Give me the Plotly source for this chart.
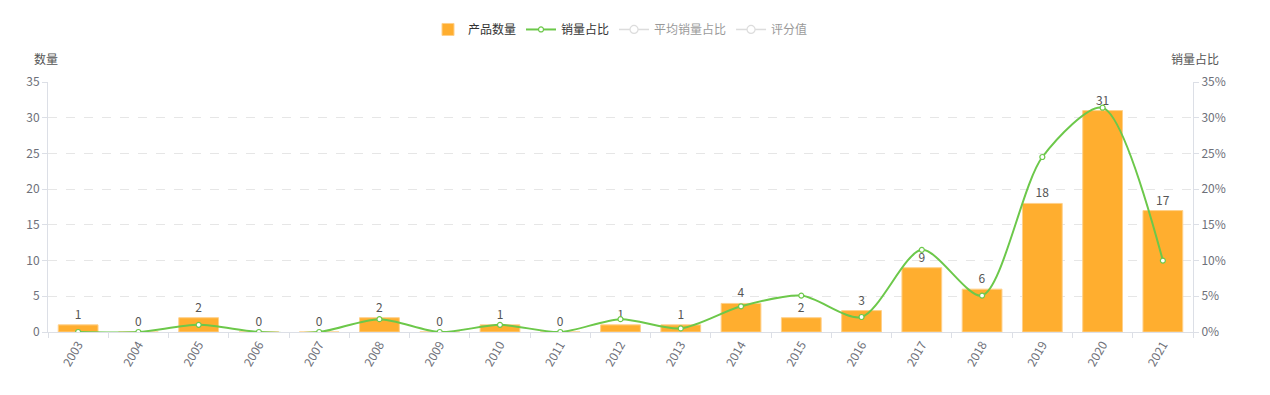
import plotly.graph_objects as go

years = [str(y) for y in range(2003, 2022)]
counts = [1, 0, 2, 0, 0, 2, 0, 1, 0, 1, 1, 4, 2, 3, 9, 6, 18, 31, 17]
share_pct = [0, 0, 1.0, 0, 0, 1.8, 0, 1.0, 0, 1.8, 0.5, 3.6, 5.1, 2.1, 11.5, 5.1, 24.5, 31.4, 10.0]

FONT = "Noto Sans CJK SC, Microsoft YaHei, sans-serif"
BAR = "#FFAE2F"
GREEN = "#6CC84A"
TXT = "#555555"
AX = "#6E7079"

fig = go.Figure()
fig.add_trace(go.Bar(
    x=years, y=counts, name="产品数量",
    marker=dict(color=BAR, line=dict(color="#FFD08A", width=1)),
    text=[str(c) for c in counts], textposition="outside",
    textfont=dict(color=TXT, size=12), cliponaxis=False,
    width=0.66,
))
fig.add_trace(go.Scatter(
    x=years, y=share_pct, name="销量占比", yaxis="y2",
    mode="lines+markers", line=dict(color=GREEN, width=2, shape="spline", smoothing=0.8),
    marker=dict(size=5, color="white", line=dict(color=GREEN, width=1.2)),
))
empty = [None] * len(years)
for nm in ["平均销量占比", "评分值"]:
    fig.add_trace(go.Scatter(x=years, y=empty, name=nm, yaxis="y2", visible="legendonly",
                             mode="lines+markers", line=dict(color="#bbbbbb", width=1.5),
                             marker=dict(size=8, color="white", line=dict(color="#bbbbbb", width=1.2))))

fig.update_layout(
    width=1262, height=387,
    margin=dict(l=40, r=77, t=74, b=63),
    paper_bgcolor="white", plot_bgcolor="white",
    font=dict(family=FONT, size=12, color=TXT),
    showlegend=True,
    legend=dict(orientation="h", x=0.5, xanchor="center", y=0.982, yref="container",
                yanchor="top", font=dict(size=12, color="#333"), itemwidth=30,
                traceorder="normal"),
    xaxis=dict(type="category", tickangle=-60, showgrid=False, automargin=False,
               range=[-0.5, 18.5],
               showline=True, linecolor="#dcdfe6", ticks="outside", tickcolor="#dcdfe6",
               ticklen=5, tickson="boundaries", tickfont=dict(color=AX, size=12)),
    yaxis=dict(range=[0, 35], dtick=5, showgrid=True, gridcolor="#e6e6e6", griddash="dash",
               automargin=False,
               showline=True, linecolor="#dcdfe6", ticks="outside", tickcolor="#dcdfe6",
               ticklen=5, zeroline=False, tickfont=dict(color=AX)),
    yaxis2=dict(range=[0, 35], dtick=5, overlaying="y", side="right", ticksuffix="%",
                automargin=False,
                showgrid=False, showline=True, linecolor="#dcdfe6", ticks="outside",
                tickcolor="#dcdfe6", ticklen=5, zeroline=False, tickfont=dict(color=AX)),
    annotations=[
        dict(text="数量", xref="paper", yref="paper", x=0, y=1.05, xanchor="right",
             yanchor="bottom", showarrow=False, font=dict(size=12, color=TXT), xshift=12),
        dict(text="销量占比", xref="paper", yref="paper", x=1, y=1.05, xanchor="left",
             yanchor="bottom", showarrow=False, font=dict(size=12, color=TXT), xshift=-24),
    ],
)

fig.write_html("out.html")
